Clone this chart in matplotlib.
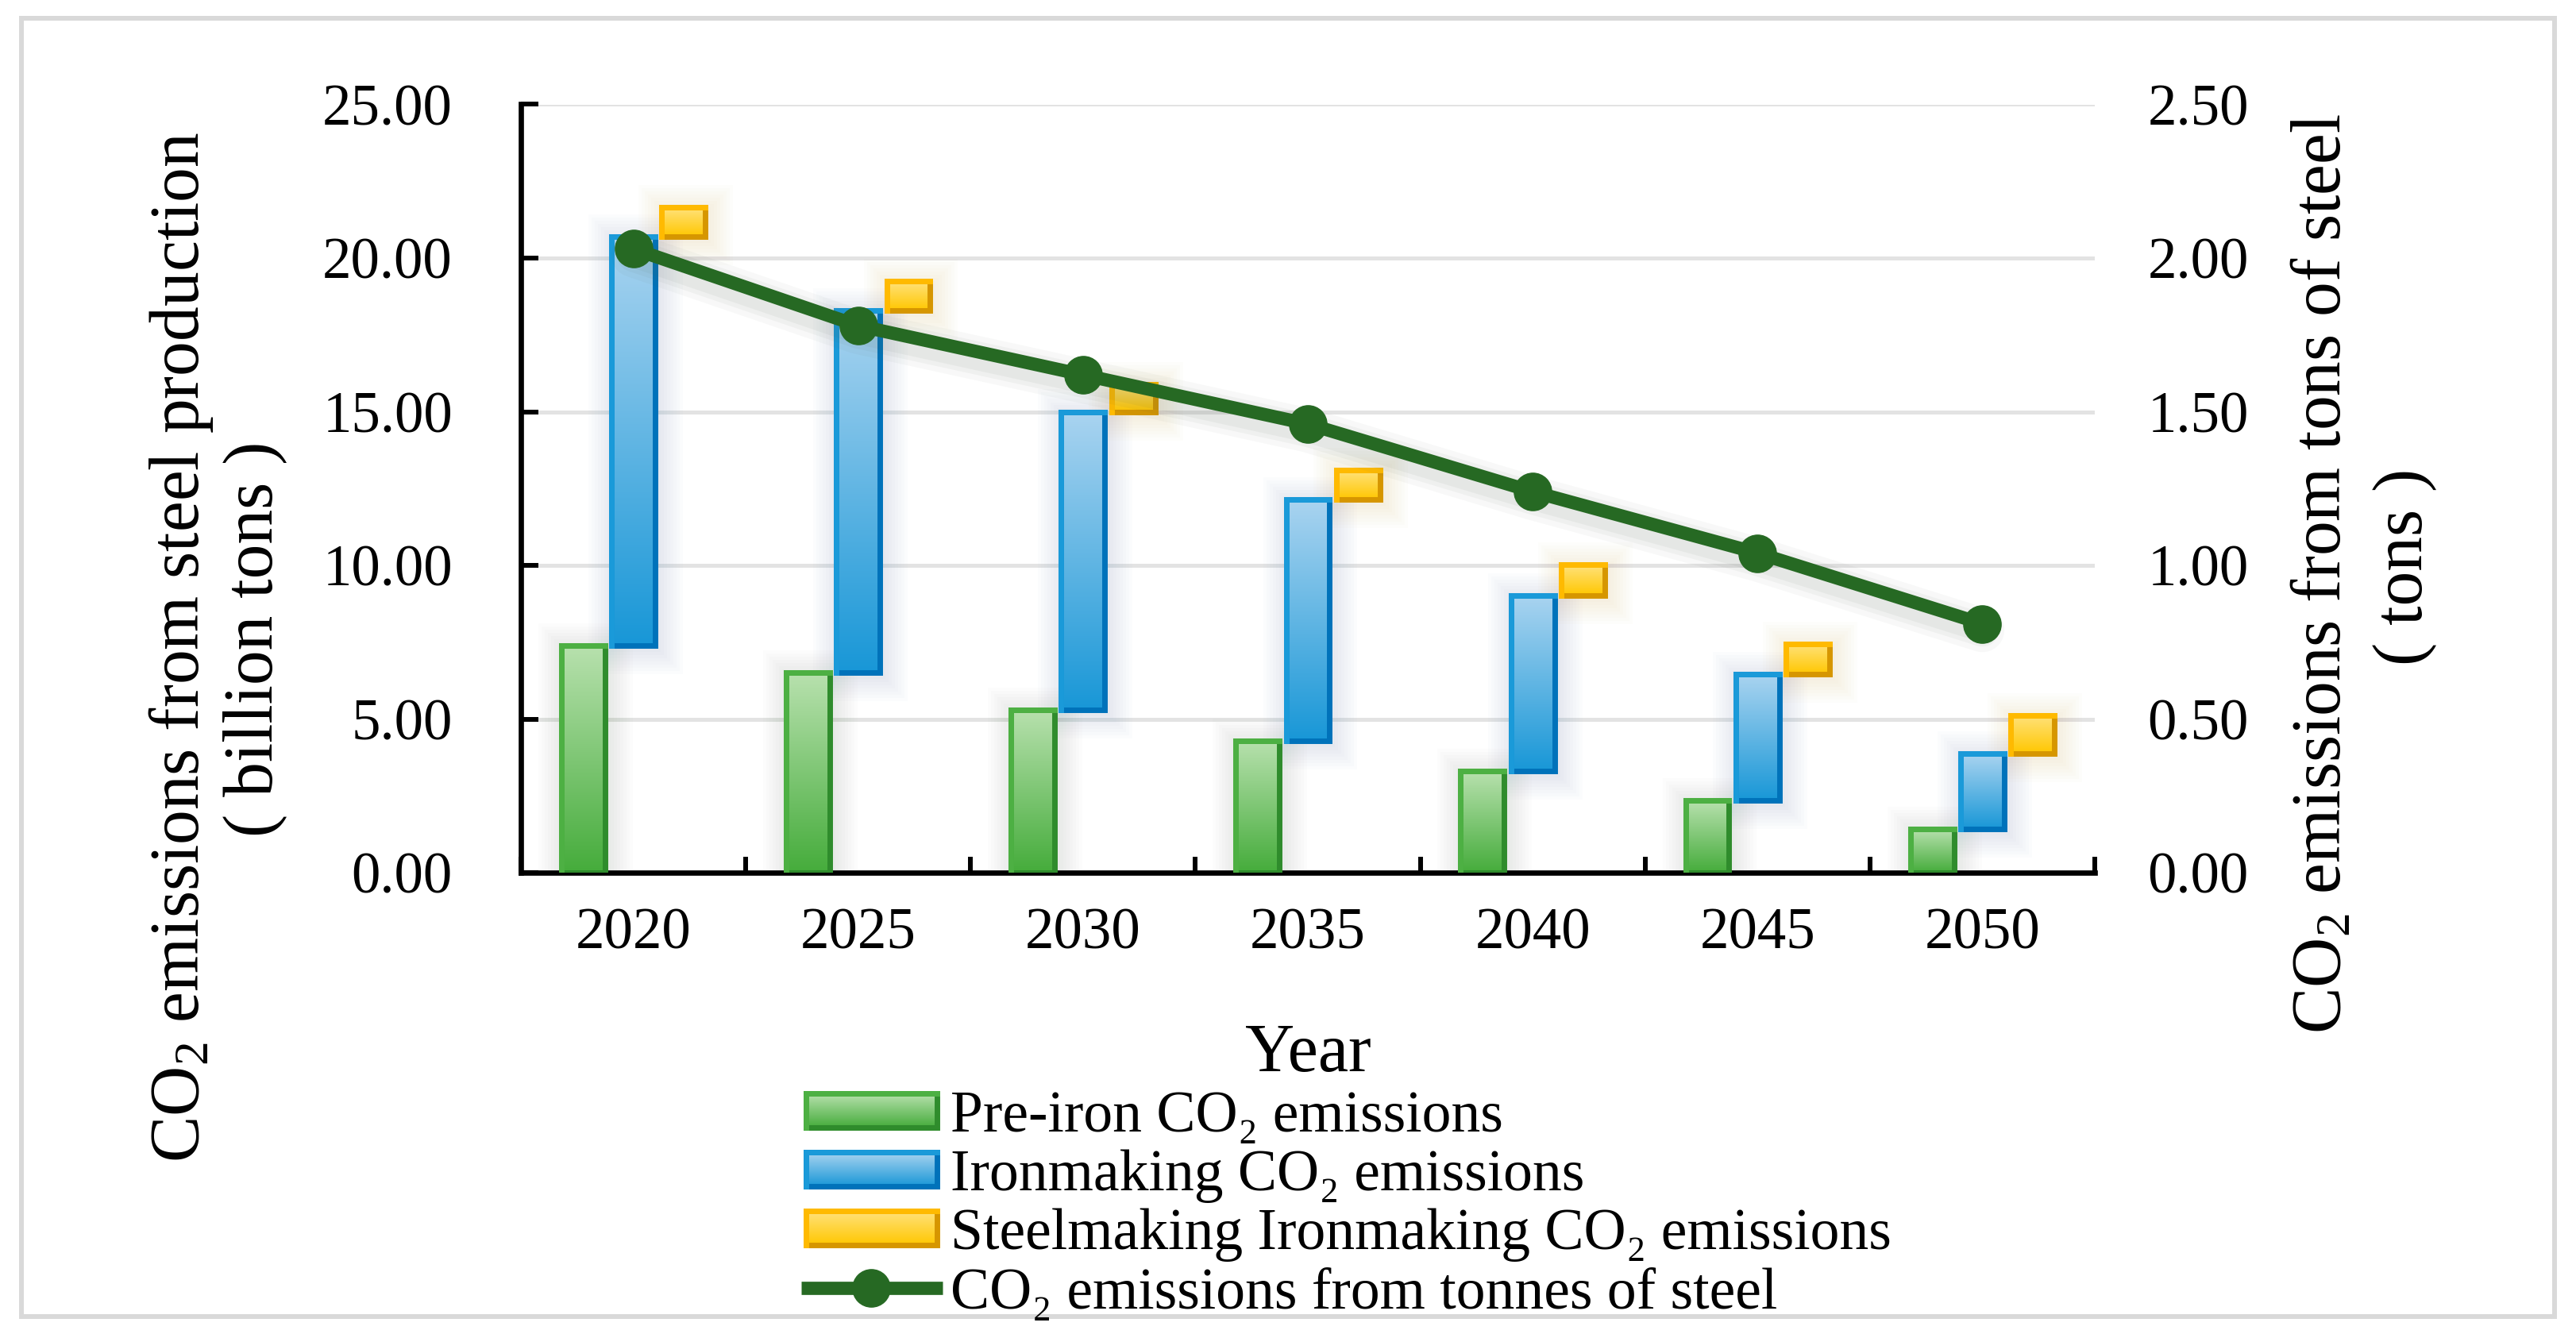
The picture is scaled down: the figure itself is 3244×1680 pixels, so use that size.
import numpy as np
import matplotlib
matplotlib.use('Agg')
import matplotlib.pyplot as plt
from matplotlib.colors import LinearSegmentedColormap
from matplotlib.patches import Rectangle
import matplotlib.transforms as mtransforms

# ---------------- data ----------------
years = ['2020', '2025', '2030', '2035', '2040', '2045', '2050']
pre_iron = [7.40, 6.50, 5.30, 4.30, 3.30, 2.35, 1.42]
ironmaking = [13.30, 11.80, 9.70, 7.85, 5.72, 4.10, 2.45]
steelmaking = [0.95, 0.95, 0.90, 0.95, 1.00, 1.00, 1.25]
per_ton = [2.03, 1.78, 1.62, 1.46, 1.24, 1.04, 0.81]
left_ticks = [0, 5, 10, 15, 20, 25]
right_ticks = [0, 0.5, 1.0, 1.5, 2.0, 2.5]
legend_labels = ['Pre-iron CO\u2082 emissions',
                 'Ironmaking CO\u2082 emissions',
                 'Steelmaking Ironmaking CO\u2082 emissions',
                 'CO\u2082 emissions from tonnes of steel']

# ---------------- style ----------------
FONT = ['Liberation Serif', 'DejaVu Serif']
plt.rcParams['font.family'] = FONT
plt.rcParams['mathtext.fontset'] = 'custom'
plt.rcParams['mathtext.rm'] = 'Liberation Serif'
plt.rcParams['mathtext.it'] = 'Liberation Serif:italic'
plt.rcParams['mathtext.bf'] = 'Liberation Serif:bold'

GREEN = dict(top='#B8E1AE', bot='#45AC3B', edge='#2F8C2C', light='#4DB043', shadow='#6E8A6A')
BLUE = dict(top='#AAD4F0', bot='#1897D7', edge='#0072BA', light='#1A9AD9', shadow='#5F86B0')
YELLOW = dict(top='#FFE27C', bot='#FFC700', edge='#D69600', light='#FFBA00', shadow='#C8A050')
LINE_C = '#266923'

W, H = 3244, 1680
fig = plt.figure(figsize=(W / 100, H / 100), dpi=100)
ax_l, ax_r, ax_t, ax_b = 656, 2638, 131.5, 1099
ax = fig.add_axes([ax_l / W, 1 - ax_b / H, (ax_r - ax_l) / W, (ax_b - ax_t) / H])
ax2 = ax.twinx()

x = np.arange(len(years))
off = 0.2236
bw = 0.194
px_x = 7.0 / (ax_r - ax_l)        # data units per pixel (x)
px_y = 25.0 / (ax_b - ax_t)       # data units per pixel (y)


def gradient_fill(a, rect, c_top, c_bot, z):
    x0, y0 = rect.get_x(), rect.get_y()
    w, h = rect.get_width(), rect.get_height()
    cmap = LinearSegmentedColormap.from_list('g', [c_bot, c_top])
    grad = np.linspace(0, 1, 256).reshape(-1, 1)
    im = a.imshow(grad, extent=[x0, x0 + w, y0, y0 + h], origin='lower',
                  aspect='auto', cmap=cmap, zorder=z, interpolation='bicubic')
    im.set_clip_path(rect)


def shadow(a, rect, color, sx, sy, z):
    x0, y0 = rect.get_x(), rect.get_y()
    w, h = rect.get_width(), rect.get_height()
    for k in range(1, 9):
        e = k * 4
        a.add_patch(Rectangle((x0 - e * sx + 3 * sx, y0 - e * sy - 4 * sy),
                              w + 2 * e * sx, h + 2 * e * sy,
                              facecolor=color, edgecolor='none', alpha=0.018, zorder=z))


def styled_bars(a, xs, heights, bottoms, st, z):
    bars = a.bar(xs, heights, width=bw, bottom=bottoms, color='none',
                 edgecolor=st['edge'], linewidth=5, zorder=z + 1)
    for r in bars:
        shadow(a, r, st['shadow'], px_x, px_y, z - 1)
        gradient_fill(a, r, st['top'], st['bot'], z)
        x0, y0 = r.get_x(), r.get_y()
        a.plot([x0, x0, x0 + r.get_width()], [y0, y0 + r.get_height(), y0 + r.get_height()],
               color=st['light'], lw=5, solid_joinstyle='miter', solid_capstyle='projecting', zorder=z + 2)
    return bars


iron_bottom = pre_iron
steel_bottom = [p + i for p, i in zip(pre_iron, ironmaking)]
styled_bars(ax, x - off, pre_iron, 0, GREEN, 3)
styled_bars(ax, x, ironmaking, iron_bottom, BLUE, 3)
styled_bars(ax, x + off, steelmaking, steel_bottom, YELLOW, 3)

# line (right axis) with soft shadow
for k, a_ in zip([40, 30, 22], [0.04, 0.05, 0.06]):
    tr = ax2.transData + mtransforms.ScaledTranslation(0, -8 / 100, fig.dpi_scale_trans)
    ax2.plot(x, per_ton, color='#506050', lw=k, alpha=a_, solid_capstyle='round', transform=tr, zorder=4)
ax2.plot(x, per_ton, color=LINE_C, lw=12, marker='o', ms=34, mec=LINE_C, mfc=LINE_C, zorder=6)

# axes limits / ticks
ax.set_xlim(-0.5, len(years) - 0.5)
ax.set_ylim(left_ticks[0], left_ticks[-1])
ax2.set_ylim(right_ticks[0], right_ticks[-1])

ax.set_xticks(x)
ax.set_xticklabels(years)
ax.set_xticks(np.arange(-0.5, len(years), 1.0), minor=True)
ax.tick_params(axis='x', which='major', length=0, pad=32, labelsize=52.5)
ax.tick_params(axis='x', which='minor', direction='in', length=14.5, width=4.3, color='black')

ax.set_yticks(left_ticks)
ax.set_yticklabels([f'{v:.2f}' for v in left_ticks])
ax.tick_params(axis='y', direction='in', length=16, width=4.3, pad=62, labelsize=52.5)

ax2.set_yticks(right_ticks)
ax2.set_yticklabels([f'{v:.2f}' for v in right_ticks])
ax2.tick_params(axis='y', length=0, pad=48, labelsize=52.5)

ax.yaxis.grid(True, color='#E3E3E3', lw=3.6)
ax.set_axisbelow(True)
for s in ['top', 'right']:
    ax.spines[s].set_visible(False)
for s in ['left', 'bottom']:
    ax.spines[s].set_linewidth(4.8)
    ax.spines[s].set_color('black')
for s in ax2.spines.values():
    s.set_visible(False)
ax.patch.set_visible(False)
ax2.patch.set_visible(False)

# axis titles
fig.text(228 / W, 1 - 815 / H, r'CO$_{\mathrm{2}}$ emissions from steel production',
         rotation=90, ha='center', va='center', fontsize=63)
fig.text(321 / W, 1 - 805 / H, '( billion tons )', rotation=90, ha='center', va='center', fontsize=63)
fig.text(2926 / W, 1 - 723 / H, r'CO$_{\mathrm{2}}$ emissions from tons of steel',
         rotation=90, ha='center', va='center', fontsize=63)
fig.text(3029 / W, 1 - 714 / H, '( tons )', rotation=90, ha='center', va='center', fontsize=63)
fig.text(1647 / W, 1 - 1349 / H, 'Year', ha='center', va='baseline', fontsize=62)

# overlay for legend + frame (pixel coords, y up)
lax = fig.add_axes([0, 0, 1, 1], zorder=10)
lax.set_xlim(0, W)
lax.set_ylim(0, H)
lax.axis('off')
lax.add_patch(Rectangle((27, 22), W - 54, H - 45, fill=False, edgecolor='#D9D9D9', lw=4.3))

handle_styles = [GREEN, BLUE, YELLOW]
row_tops = [1377, 1451, 1525]
for st, top in zip(handle_styles, row_tops):
    r = Rectangle((1015, H - top - 43), 165, 43, facecolor='none', edgecolor=st['edge'], lw=5, zorder=3)
    lax.add_patch(r)
    gradient_fill(lax, r, st['top'], st['bot'], 2)
    lax.plot([1015, 1015, 1180], [H - top - 43, H - top, H - top], color=st['light'], lw=5,
             solid_joinstyle='miter', zorder=4)
lax.plot([1009, 1187], [H - 1622, H - 1622], color=LINE_C, lw=12, solid_capstyle='butt')
lax.plot([1097], [H - 1622], marker='o', ms=34, color=LINE_C)
baselines = [1425, 1499, 1573, 1648]
for lab, b in zip(legend_labels, baselines):
    lax.text(1197, H - b, lab, ha='left', va='baseline', fontsize=53, family=FONT)

fig.savefig('out.png', dpi=100)
